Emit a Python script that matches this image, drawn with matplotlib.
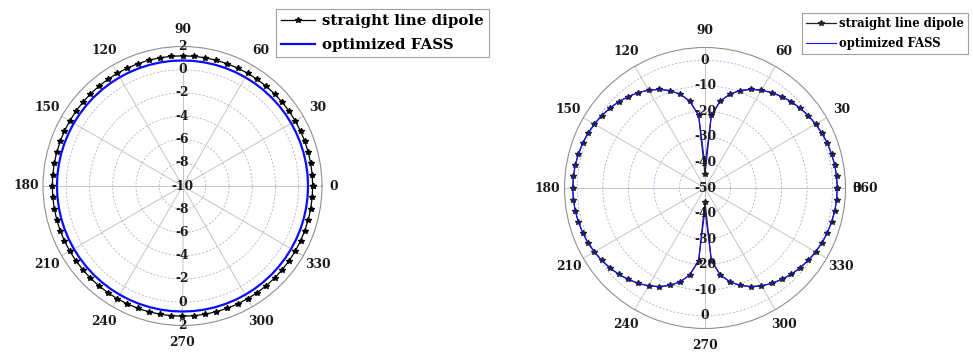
import numpy as np
import matplotlib
matplotlib.use("Agg")
import matplotlib.pyplot as plt

# ---------------- data ----------------
angles_deg = list(range(0, 361, 5))

# H-plane gain (dB)
h_dipole = [1.2, 1.2, 1.2, 1.2, 1.2, 1.2, 1.2, 1.2, 1.2, 1.2, 1.2, 1.2, 1.2, 1.2, 1.2, 1.2, 1.2, 1.2, 1.2,
            1.2, 1.2, 1.2, 1.2, 1.2, 1.2, 1.2, 1.2, 1.2, 1.2, 1.2, 1.2, 1.2, 1.2, 1.2, 1.2, 1.2,
            1.2, 1.2, 1.2, 1.2, 1.2, 1.2, 1.2, 1.2, 1.2, 1.2, 1.2, 1.2, 1.2, 1.2, 1.2, 1.2, 1.2, 1.2,
            1.2, 1.2, 1.2, 1.2, 1.2, 1.2, 1.2, 1.2, 1.2, 1.2, 1.2, 1.2, 1.2, 1.2, 1.2, 1.2, 1.2, 1.2, 1.2]
h_fass = [0.8, 0.8, 0.8, 0.8, 0.8, 0.8, 0.8, 0.8, 0.8, 0.8, 0.8, 0.8, 0.8, 0.8, 0.8, 0.8, 0.8, 0.8, 0.8,
          0.8, 0.8, 0.8, 0.8, 0.8, 0.8, 0.8, 0.8, 0.8, 0.8, 0.8, 0.8, 0.8, 0.8, 0.8, 0.8, 0.8,
          0.8, 0.8, 0.8, 0.8, 0.8, 0.8, 0.8, 0.8, 0.8, 0.8, 0.8, 0.8, 0.8, 0.8, 0.8, 0.8, 0.8, 0.8,
          0.8, 0.8, 0.8, 0.8, 0.8, 0.8, 0.8, 0.8, 0.8, 0.8, 0.8, 0.8, 0.8, 0.8, 0.8, 0.8, 0.8, 0.8, 0.8]

# E-plane gain (dB)
e_dipole = [1.8, 1.7, 1.6, 1.3, 1.0, 0.6, 0.0, -0.6, -1.4, -2.2, -3.3, -4.4, -5.8, -7.4, -9.4, -11.9, -15.4, -21.5, -44.5,
            -21.5, -15.4, -11.9, -9.4, -7.4, -5.8, -4.4, -3.3, -2.2, -1.4, -0.6, 0.0, 0.6, 1.0, 1.3, 1.6, 1.7, 1.8,
            1.7, 1.6, 1.3, 1.0, 0.6, 0.0, -0.6, -1.4, -2.2, -3.3, -4.4, -5.8, -7.4, -9.4, -11.9, -15.4, -21.5, -44.5,
            -21.5, -15.4, -11.9, -9.4, -7.4, -5.8, -4.4, -3.3, -2.2, -1.4, -0.6, 0.0, 0.6, 1.0, 1.3, 1.6, 1.7, 1.8]
e_fass = [1.8, 1.7, 1.6, 1.3, 1.0, 0.6, 0.0, -0.6, -1.4, -2.2, -3.3, -4.4, -5.8, -7.4, -9.4, -11.9, -15.4, -21.5, -41.0,
          -21.5, -15.4, -11.9, -9.4, -7.4, -5.8, -4.4, -3.3, -2.2, -1.4, -0.6, 0.0, 0.6, 1.0, 1.3, 1.6, 1.7, 1.8,
          1.7, 1.6, 1.3, 1.0, 0.6, 0.0, -0.6, -1.4, -2.2, -3.3, -4.4, -5.8, -7.4, -9.4, -11.9, -15.4, -21.5, -41.5,
          -21.5, -15.4, -11.9, -9.4, -7.4, -5.8, -4.4, -3.3, -2.2, -1.4, -0.6, 0.0, 0.6, 1.0, 1.3, 1.6, 1.7, 1.8]

series_labels = ["straight line dipole", "optimized FASS"]
theta_ticks = [0, 30, 60, 90, 120, 150, 180, 210, 240, 270, 300, 330]

left_rmin, left_rmax = -10, 2
left_rings = [-8, -6, -4, -2, 0]
left_rlabels = [-8, -6, -4, -2, 0, 2]

right_rmin, right_rmax = -50, 5
right_rings = [-40, -30, -20, -10, 0]
right_rlabels = [-40, -30, -20, -10, 0]

# ---------------- style ----------------
FONT = "DejaVu Serif"
TXT = dict(family=FONT, weight="bold", color="#1a1a1a")
SPOKE_C = "#c4c4c4"
RING_C = "#adb1da"
EDGE_C = "#8f8f8f"

W, H = 973, 353
fig = plt.figure(figsize=(W / 100, H / 100), dpi=100)


def polar_axes(cx, cy, R):
    return fig.add_axes([(cx - R) / W, (H - cy - R) / H, 2 * R / W, 2 * R / H],
                        projection="polar")


def dress(ax, rmin, rmax, rings, rlabels, extra_zero_label=None, fs=8.8):
    ax.set_rlim(rmin, rmax)
    ax.set_thetagrids(theta_ticks, labels=[""] * len(theta_ticks))
    ax.set_rgrids(rings, labels=[""] * len(rings))
    ax.xaxis.grid(True, color=SPOKE_C, lw=0.7, ls="-")
    ax.yaxis.grid(True, color=RING_C, lw=0.6, ls=(0, (2.5, 2)))
    ax.spines["polar"].set_color(EDGE_C)
    ax.spines["polar"].set_linewidth(0.8)
    ax.tick_params(length=0, pad=0)
    ax.set_facecolor("white")
    # angle labels around the rim
    for a in theta_ticks:
        t = np.deg2rad(a)
        if a == 0:
            ax.text(0.5 + 0.5 * 1.05, 0.5, "0", transform=ax.transAxes,
                    ha="left", va="center", fontsize=fs, **TXT)
            continue
        f = 1.12
        ax.text(0.5 + 0.5 * f * np.cos(t), 0.5 + 0.5 * f * np.sin(t), str(a),
                transform=ax.transAxes, ha="center", va="center", fontsize=fs, **TXT)
    if extra_zero_label:
        ax.text(0.5 + 0.5 * 1.05, 0.5, extra_zero_label, transform=ax.transAxes,
                ha="left", va="center", fontsize=fs, **TXT)
    # radial labels along the vertical spoke, above and below the centre
    ax.text(0, rmin, str(rmin), ha="center", va="center", fontsize=fs, zorder=5, **TXT)
    for r in rlabels:
        for a in (90, 270):
            ax.text(np.deg2rad(a), r, str(r), ha="center", va="center",
                    fontsize=fs, zorder=5, **TXT)


th = np.deg2rad(angles_deg)

# ---------------- left: H-plane ----------------
ax1 = polar_axes(182.5, 186, 139.5)
dress(ax1, left_rmin, left_rmax, left_rings, left_rlabels)
l1, = ax1.plot(th, h_dipole, color="black", lw=0.9, marker="*", ms=3.8, zorder=3)
l2, = ax1.plot(th, h_fass, color="#0a0aff", lw=1.6, zorder=3)
leg1 = ax1.legend([l1, l2], series_labels, loc="upper left",
                  bbox_to_anchor=(275.7 / W, 1 - 9 / H), bbox_transform=fig.transFigure,
                  borderaxespad=0, prop=dict(family=FONT, weight="bold", size=10.8),
                  frameon=True, fancybox=False, edgecolor="#a0a0a0", framealpha=1,
                  handlelength=2.3, handletextpad=0.5, borderpad=0.32, labelspacing=0.68)
leg1.get_frame().set_linewidth(0.8)

# ---------------- right: E-plane ----------------
ax2 = polar_axes(705, 188, 140.5)
dress(ax2, right_rmin, right_rmax, right_rings, right_rlabels, extra_zero_label="360")
l3, = ax2.plot(th, e_dipole, color="#222222", lw=0.9, marker="*", ms=3.8, zorder=3)
l4, = ax2.plot(th, e_fass, color="#1010ff", lw=0.8, zorder=3)
leg2 = ax2.legend([l3, l4], series_labels, loc="upper left",
                  bbox_to_anchor=(802 / W, 1 - 13 / H), bbox_transform=fig.transFigure,
                  borderaxespad=0, prop=dict(family=FONT, weight="bold", size=8.35),
                  frameon=True, fancybox=False, edgecolor="#a0a0a0", framealpha=1,
                  handlelength=2.6, handletextpad=0.3, borderpad=0.32, labelspacing=0.65)
leg2.get_frame().set_linewidth(0.8)

fig.savefig("out.png", dpi=100, facecolor="white")
